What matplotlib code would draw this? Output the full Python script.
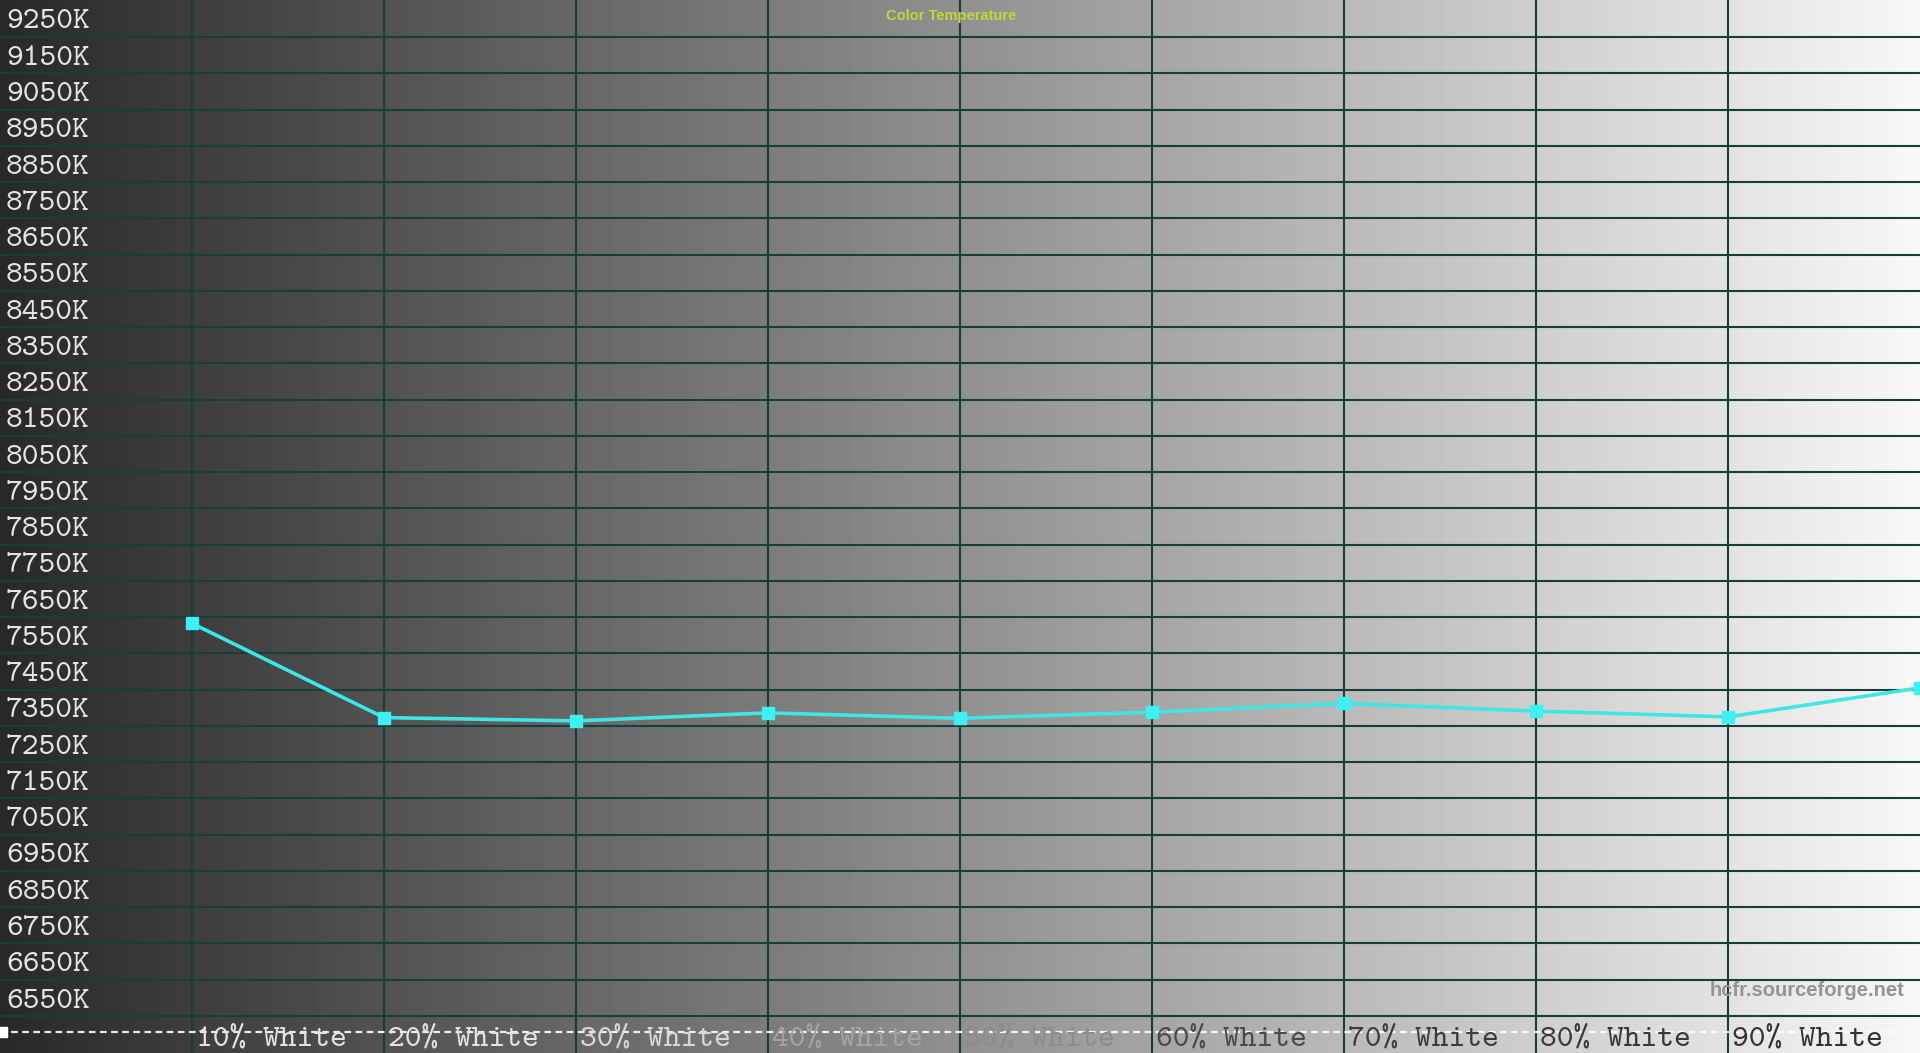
import numpy as np
import matplotlib
matplotlib.use("Agg")
import matplotlib.pyplot as plt
import matplotlib.transforms as mtransforms

# ---- data ----
categories = ['10% White', '20% White', '30% White', '40% White', '50% White',
              '60% White', '70% White', '80% White', '90% White', '100% White']
temps = [7583, 7323, 7314, 7336, 7321, 7338, 7362, 7341, 7325, 7405]
y_grid = list(range(6500, 9201, 100))
y_label_values = list(range(6550, 9251, 100))
y_labels = [f"{v}K" for v in y_label_values]
x_label_colors = ['#e2e2e2', '#e2e2e2', '#d8d8d8', '#a4a4a4', '#8c8c8c',
                  '#4a4a4a', '#3c3c3c', '#383838', '#333333', '#333333']
ref_level = 6457

W, H = 1920, 1053
fig = plt.figure(figsize=(W / 100, H / 100), dpi=100)
ax = fig.add_axes([0, 0, 1, 1])
ymin, ymax = 6398, 9302
xs = np.arange(1, len(temps) + 1)
ax.set_xlim(0, 10)
ax.set_ylim(ymin, ymax)
ax.axis('off')

# background gradient
grad = np.linspace(0.16, 0.97, 512)[None, :]
ax.imshow(grad, extent=[0, 10, ymin, ymax], aspect='auto', cmap='gray',
          vmin=0, vmax=1, zorder=0, interpolation='bilinear')

gridc = '#173d3d'
for v in y_grid:
    ax.axhline(v, color=gridc, lw=1.5, zorder=1)
for x in xs[:-1]:
    ax.axvline(x, color=gridc, lw=1.5, zorder=1)

# reference dashed line
ax.axhline(ref_level, color='white', lw=1.6, ls=(0, (3, 2)), zorder=2, alpha=0.9)
ax.plot([0.012], [ref_level], marker='s', ms=7, color='white', zorder=3, clip_on=False)

# y labels
ytr = mtransforms.blended_transform_factory(ax.transAxes, ax.transData)
for v, lab in zip(y_label_values, y_labels):
    ax.text(6 / W, v - 10, lab, transform=ytr, ha='left', va='center',
            fontsize=23, family='cmtt10', color='#e4e4e4', zorder=4)

# x labels (the last one falls outside the visible area in the reference)
for x, lab, c in list(zip(xs, categories, x_label_colors))[:-1]:
    ax.text(x + 4 / 192, ref_level - 22, lab, ha='left', va='center',
            fontsize=23, family='cmtt10', color=c, zorder=4)

# data line
ax.plot(xs, temps, color='#3ee6e6', lw=2.6, marker='s', ms=8,
        markerfacecolor='#3ef0f0', markeredgecolor='#3ef0f0', zorder=5)

fig.text(951 / W, 1 - 16 / H, 'Color Temperature', ha='center', va='center',
         fontsize=10.5, fontweight='bold', family='Liberation Sans', color='#c8d43a')
fig.text(1904 / W, 1 - 990 / H, 'hcfr.sourceforge.net', ha='right', va='center',
         fontsize=14.5, fontweight='bold', family='Liberation Sans', color='#949494')

fig.savefig('out.png', dpi=100)
